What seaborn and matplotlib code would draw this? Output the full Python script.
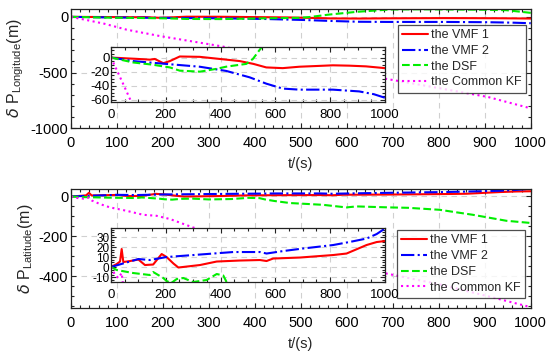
import matplotlib
matplotlib.use('Agg')
import matplotlib.pyplot as plt
from matplotlib.ticker import MultipleLocator
import seaborn as sns

# ---- data: t (s) and position error (m) ----
# longitude
lon_vmf1_t = [0, 50, 100, 142, 160, 191, 215, 251, 324, 385, 470, 520, 567, 627, 688, 750, 810, 870, 931, 1000]
lon_vmf1 = [0, -1, -2, -3, -2, -8, -5, 1.5, 1, -1.5, -5, -9, -14, -15, -13, -12, -11, -11.5, -12.5, -15]
lon_vmf2_t = [0, 81, 200, 324, 421, 506, 567, 627, 688, 750, 810, 906, 960, 1000]
lon_vmf2 = [0, -5, -9, -13, -19, -28, -37, -44, -45.5, -45.5, -45.5, -48, -52, -57]
lon_dsf_t = [0, 81, 150, 215, 251, 325, 385, 420, 445, 494, 518, 543, 560, 621, 693, 760, 838, 900, 947, 1000]
lon_dsf = [0, -7, -10, -14, -18.6, -20, -16, -13, -11.6, -9, -2, 11, 20, 45, 66, 68, 66, 64, 60, 36]
lon_kf_t = [0, 44, 73, 121, 193, 324, 500, 683, 800, 907, 1000]
lon_kf = [0, -37, -62, -115, -172, -262, -400, -555, -640, -720, -822]

# latitude
lat_vmf1_t = [0, 21, 33, 39, 45, 70, 100, 124, 154, 185, 203, 228, 246, 325, 386, 470, 544, 568, 592,
              690, 811, 860, 933, 970, 1000]
lat_vmf1 = [0, 3, 5.5, 18, 5, 6, 7.5, 2, 2.5, 13, 10, 3.5, -0.5, 2, 5.5, 6.5, 7, 6, 8.5,
            9.5, 12, 13.5, 22, 25, 26]
lat_vmf2_t = [0, 50, 100, 142, 203, 325, 446, 544, 568, 629, 700, 811, 870, 933, 970, 1000]
lat_vmf2 = [0, 4, 8, 7, 10, 12.5, 15, 15, 13.5, 16, 18.5, 22, 25, 28.5, 33, 38.5]
lat_dsf_t = [0, 21, 81, 142, 154, 191, 203, 220, 240, 264, 300, 349, 386, 410, 422, 443, 476, 548,
             599, 621, 693, 733, 802, 874, 947, 1000]
lat_dsf = [0, -3, -6, -8, -5, -11, -14, -16, -12, -11, -15, -13, -7, -8.5, -15, -23, -33, -42,
           -55, -50, -55, -57, -67, -92, -122, -133]
lat_kf_t = [0, 15, 27, 39, 45, 63, 85, 121, 157, 186, 215, 265, 400, 550, 683, 800, 903, 1000]
lat_kf = [0, -8, -11, -6, -20, -38, -55, -72, -92, -97, -113, -155, -250, -320, -385, -440, -498, -555]

labels = ['the VMF 1', 'the VMF 2', 'the DSF', 'the Common KF']
colors = ['#ff0000', '#0000ff', '#00ee00', '#ff00ff']
styles = ['-', '-.', '--', ':']

sns.set_theme(style='ticks')
plt.rcParams['font.family'] = ['Liberation Sans', 'DejaVu Sans']
plt.rcParams['mathtext.fontset'] = 'custom'
plt.rcParams['mathtext.rm'] = 'Liberation Sans'
plt.rcParams['axes.unicode_minus'] = False


def style_axes(ax, xmaj, xmin, ymaj, ymin, fs, xpad):
    ax.xaxis.set_major_locator(MultipleLocator(xmaj))
    ax.xaxis.set_minor_locator(MultipleLocator(xmin))
    ax.yaxis.set_major_locator(MultipleLocator(ymaj))
    ax.yaxis.set_minor_locator(MultipleLocator(ymin))
    ax.tick_params(which='both', direction='in', top=True, right=True, colors='#222222',
                   labelcolor='black', labelsize=fs, width=0.8, pad=2)
    ax.tick_params(axis='x', which='both', pad=xpad)
    ax.tick_params(which='major', length=3.5)
    ax.tick_params(which='minor', length=2)
    ax.grid(True, which='major', ls=(0, (5, 4)), color='#d0d0d0', lw=0.8)
    for s in ax.spines.values():
        s.set_linewidth(0.9)
        s.set_color('#222222')


def draw(ax, series, with_label):
    for (t, v), lab, c, ls in zip(series, labels, colors, styles):
        sns.lineplot(x=t, y=v, ax=ax, color=c, linestyle=ls, lw=1.5, sort=False,
                     estimator=None, label=lab if with_label else None, legend=False)


fig = plt.figure(figsize=(5.5, 3.55), dpi=100)

panels = [
    dict(series=[(lon_vmf1_t, lon_vmf1), (lon_vmf2_t, lon_vmf2), (lon_dsf_t, lon_dsf), (lon_kf_t, lon_kf)],
         main=[0.129, 0.639, 0.836, 0.337], ylim=(-1000, 75), ymaj=500, ymin=100,
         ins=[0.2018, 0.7127, 0.498, 0.155], iylim=(-63, 15), iymaj=20, iymin=5, iyfs=9.5,
         name='Longitude', leg=(0.956, 0.930)),
    dict(series=[(lat_vmf1_t, lat_vmf1), (lat_vmf2_t, lat_vmf2), (lat_dsf_t, lat_dsf), (lat_kf_t, lat_kf)],
         main=[0.129, 0.132, 0.836, 0.336], ylim=(-560, 38), ymaj=200, ymin=50,
         ins=[0.2018, 0.2056, 0.498, 0.152], iylim=(-15, 39), iymaj=10, iymin=2.5, iyfs=8.5,
         name='Latitude', leg=(0.9545, 0.352)),
]

for p in panels:
    ax = fig.add_axes(p['main'])
    draw(ax, p['series'], True)
    ax.set_xlim(0, 1000)
    ax.set_ylim(*p['ylim'])
    style_axes(ax, 100, 20, p['ymaj'], p['ymin'], 10.5, 6)
    ax.set_xlabel('t/(s)', fontsize=10.5, labelpad=5)
    ax.set_ylabel(r'$\delta$ P$_{\mathrm{' + p['name'] + '}}$(m)', fontsize=11.5, labelpad=3)
    leg = ax.legend(loc='upper right', bbox_to_anchor=p['leg'], bbox_transform=fig.transFigure,
                    fontsize=9, frameon=True, fancybox=False, borderaxespad=0, borderpad=0.35,
                    labelspacing=0.3, handlelength=2.1, handletextpad=0.2)
    leg.get_frame().set_edgecolor('#222222')
    leg.get_frame().set_linewidth(0.9)

    axi = fig.add_axes(p['ins'])
    draw(axi, p['series'], False)
    axi.set_xlim(0, 1000)
    axi.set_ylim(*p['iylim'])
    style_axes(axi, 200, 50, p['iymaj'], p['iymin'], 9.5, 5)
    axi.tick_params(axis='y', labelsize=p['iyfs'], pad=1)
    axi.set_xlabel('')
    axi.set_ylabel('')

fig.savefig('out.png', dpi=100)
